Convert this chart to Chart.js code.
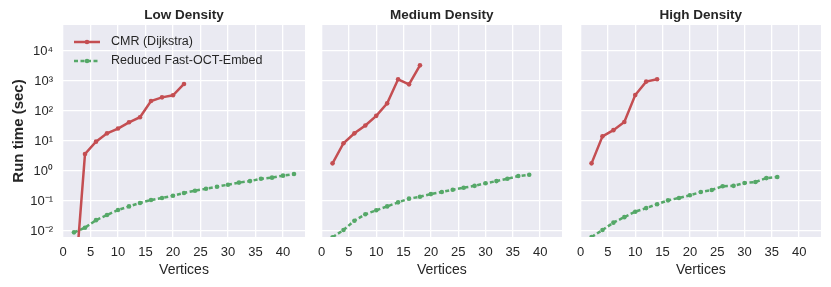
<!DOCTYPE html>
<html>
<head>
<meta charset="utf-8">
<script src="https://cdn.jsdelivr.net/npm/chart.js@4.4.1/dist/chart.umd.min.js"></script>
<style>
  body { margin: 0; background: #fff; }
  #wrap { position: relative; width: 831px; height: 287px; overflow: hidden; }
  canvas { position: absolute; top: 0; }
</style>
</head>
<body>
<div id="wrap">
  <canvas id="low" width="310" height="287" style="left:0px"></canvas>
  <canvas id="med" width="257" height="287" style="left:311px"></canvas>
  <canvas id="high" width="257" height="287" style="left:570px"></canvas>
</div>
<script>
// panel titles and series names
const panelTitles = ['Low Density', 'Medium Density', 'High Density'];
const seriesNames = ['CMR (Dijkstra)', 'Reduced Fast-OCT-Embed'];

// x tick labels and y decades
const xTicks = [0, 5, 10, 15, 20, 25, 30, 35, 40];
const yDecades = [-2, -1, 0, 1, 2, 3, 4];

// Low density
const lowCmrX = [2, 4, 6, 8, 10, 12, 14, 16, 18, 20, 22];
const lowCmrY = [0.00007, 3.7, 9.5, 18, 26, 42, 62, 215, 285, 335, 795];
const lowOctX = [2, 4, 6, 8, 10, 12, 14, 16, 18, 20, 22, 24, 26, 28, 30, 32, 34, 36, 38, 40, 42];
const lowOctY = [0.009, 0.0129, 0.023, 0.034, 0.05, 0.066, 0.086, 0.108, 0.126, 0.15, 0.185,
                 0.22, 0.257, 0.3, 0.35, 0.41, 0.46, 0.55, 0.6, 0.7, 0.79];

// Medium density
const medCmrX = [2, 4, 6, 8, 10, 12, 14, 16, 18];
const medCmrY = [1.8, 8.4, 18, 33, 69, 180, 1140, 775, 3330];
const medOctX = [2, 4, 6, 8, 10, 12, 14, 16, 18, 20, 22, 24, 26, 28, 30, 32, 34, 36, 38];
const medOctY = [0.0062, 0.0108, 0.022, 0.036, 0.049, 0.066, 0.09, 0.12, 0.139, 0.17,
                 0.2, 0.238, 0.277, 0.32, 0.39, 0.46, 0.55, 0.68, 0.75];

// High density
const highCmrX = [2, 4, 6, 8, 10, 12, 14];
const highCmrY = [1.8, 14.3, 23, 43, 340, 955, 1140];
const highOctX = [2, 4, 6, 8, 10, 12, 14, 16, 18, 20, 22, 24, 26, 28, 30, 32, 34, 36];
const highOctY = [0.0063, 0.0108, 0.019, 0.029, 0.044, 0.058, 0.078, 0.105, 0.126, 0.155,
                  0.2, 0.233, 0.31, 0.32, 0.4, 0.43, 0.58, 0.63];

const RED = '#C44E52';
const GREEN = '#55A868';
const TEXT = '#262626';
const FONT = "'Liberation Sans', Arial, sans-serif";

const sup = { '-': '\u207B', '0': '\u2070', '1': '\u00B9', '2': '\u00B2', '3': '\u00B3', '4': '\u2074' };
const powLabel = e => '10' + String(e).split('').map(c => sup[c]).join('');

const toPts = (xs, ys) => xs.map((x, i) => ({ x: x, y: ys[i] }));

// grey plot background + panel title, axis titles, legend
const decor = {
    id: 'decor',
    beforeDraw(chart) {
        const a = chart.chartArea, ctx = chart.ctx;
        ctx.save();
        ctx.fillStyle = '#EAEAF2';
        ctx.fillRect(a.left, a.top, a.right - a.left, a.bottom - a.top);
        ctx.restore();
    },
    afterDraw(chart, args, opts) {
        const a = chart.chartArea, ctx = chart.ctx;
        const cx = (a.left + a.right) / 2;
        ctx.save();
        ctx.fillStyle = TEXT;
        ctx.textAlign = 'center';
        ctx.textBaseline = 'middle';
        ctx.font = 'bold 13.5px ' + FONT;
        ctx.fillText(opts.title, cx, 15);
        ctx.font = '14px ' + FONT;
        ctx.fillText('Vertices', cx, 270);
        if (opts.first) {
            ctx.font = 'bold 15px ' + FONT;
            ctx.translate(19, (a.top + a.bottom) / 2);
            ctx.rotate(-Math.PI / 2);
            ctx.fillText('Run time (sec)', 0, 0);
            ctx.setTransform(1, 0, 0, 1, 0, 0);
            // legend
            chart.data.datasets.forEach((ds, i) => {
                const y = 42 + i * 19;
                ctx.strokeStyle = ds.borderColor;
                ctx.lineWidth = 2.5;
                ctx.setLineDash(ds.borderDash || []);
                ctx.beginPath();
                ctx.moveTo(74, y);
                ctx.lineTo(100, y);
                ctx.stroke();
                ctx.setLineDash([]);
                ctx.fillStyle = ds.borderColor;
                ctx.beginPath();
                ctx.arc(87, y, 2.3, 0, Math.PI * 2);
                ctx.fill();
                ctx.fillStyle = TEXT;
                ctx.textAlign = 'left';
                ctx.font = '12.5px ' + FONT;
                ctx.fillText(ds.label, 111, y);
            });
        }
        ctx.restore();
    }
};

function makePanel(id, title, cmrX, cmrY, octX, octY, first, areaLeft) {
    const canvas = document.getElementById(id);
    const chart = new Chart(canvas, {
        type: 'line',
        data: {
            datasets: [{
                label: seriesNames[0],
                data: toPts(cmrX, cmrY),
                borderColor: RED,
                backgroundColor: RED,
                borderWidth: 2.5,
                pointRadius: 2.3,
                pointBorderWidth: 0,
                tension: 0
            }, {
                label: seriesNames[1],
                data: toPts(octX, octY),
                borderColor: GREEN,
                backgroundColor: GREEN,
                borderWidth: 2.5,
                borderDash: [4, 2.5],
                pointRadius: 2.3,
                pointBorderWidth: 0,
                tension: 0
            }]
        },
        options: {
            responsive: false,
            animation: false,
            devicePixelRatio: 1,
            layout: { padding: { top: 25, right: 5, left: 0, bottom: 0 } },
            plugins: {
                legend: { display: false },
                tooltip: { enabled: false },
                decor: { title: title, first: first }
            },
            scales: {
                x: {
                    type: 'linear',
                    min: 0,
                    max: 44,
                    afterBuildTicks: s => { s.ticks = xTicks.map(v => ({ value: v })); },
                    afterFit: s => { s.height = 50; },
                    border: { display: false },
                    grid: { color: '#FFFFFF', lineWidth: 1.3, drawTicks: false },
                    ticks: { color: TEXT, padding: 8, font: { family: FONT, size: 13 } }
                },
                y: {
                    type: 'logarithmic',
                    min: Math.pow(10, -2.2),
                    max: Math.pow(10, 4.867),
                    afterBuildTicks: s => { s.ticks = yDecades.map(e => ({ value: Math.pow(10, e) })); },
                    afterFit: s => { s.width = first ? 63 : 0; },
                    border: { display: false },
                    grid: { color: '#FFFFFF', lineWidth: 1.3, drawTicks: false },
                    ticks: {
                        display: first,
                        color: TEXT,
                        padding: 10,
                        font: { family: FONT, size: 13 },
                        callback: v => powLabel(Math.round(Math.log10(v)))
                    }
                }
            }
        },
        plugins: [decor]
    });
    // slide the canvas so the plot area starts where the reference has it
    const off = chart.chartArea.left;
    canvas.style.left = (areaLeft - off) + 'px';
}

makePanel('low', panelTitles[0], lowCmrX, lowCmrY, lowOctX, lowOctY, true, 63);
makePanel('med', panelTitles[1], medCmrX, medCmrY, medOctX, medOctY, false, 322);
makePanel('high', panelTitles[2], highCmrX, highCmrY, highOctX, highOctY, false, 581);
</script>
</body>
</html>
